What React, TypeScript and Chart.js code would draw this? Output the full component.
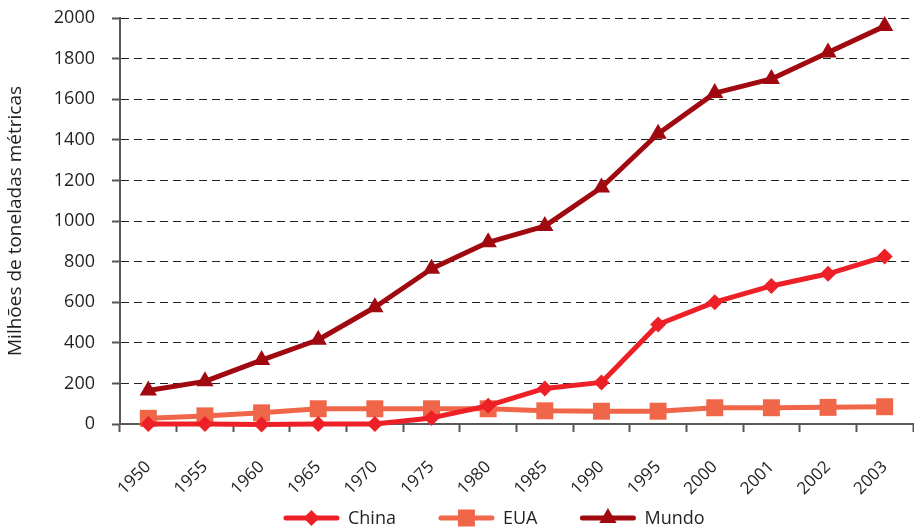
import React, { useEffect, useRef } from 'react';
import { Chart, registerables } from 'chart.js';
import { drawPoint } from 'chart.js/helpers';

Chart.register(...registerables);

const years = ['1950', '1955', '1960', '1965', '1970', '1975', '1980', '1985', '1990', '1995', '2000', '2001', '2002', '2003'];
const china = [0, 0, -3, 0, 0, 30, 90, 175, 205, 490, 600, 680, 740, 825];
const eua = [28, 40, 55, 75, 75, 75, 75, 65, 63, 63, 80, 80, 82, 85];
const mundo = [165, 210, 315, 415, 575, 765, 895, 975, 1165, 1430, 1630, 1700, 1830, 1960];
const yTitle = 'Milhões de toneladas métricas';

const FONT = "'Open Sans', 'Noto Sans', sans-serif";
const TEXT = '#231F20';

const legendPlugin = {
  id: 'lineMarkerLegend',
  afterDraw(chart: any) {
    const ctx = chart.ctx;
    const items = chart.data.datasets;
    ctx.save();
    ctx.font = `18px ${FONT}`;
    const lineW = 57, gapText = 8, gapItem = 42;
    const widths = items.map((d: any) => lineW + gapText + ctx.measureText(d.label).width);
    const ca = chart.chartArea;
    let x = ca.left + 163;
    const y = chart.height - 12;
    items.forEach((d: any, i: number) => {
      ctx.strokeStyle = d.borderColor;
      ctx.lineWidth = 5;
      ctx.lineCap = 'round';
      ctx.beginPath();
      ctx.moveTo(x + 3, y);
      ctx.lineTo(x + lineW - 3, y);
      ctx.stroke();
      ctx.fillStyle = d.pointBackgroundColor;
      ctx.strokeStyle = d.pointBorderColor;
      drawPoint(ctx, { pointStyle: d.pointStyle, radius: d.pointRadius, rotation: 0, borderWidth: 0 } as any, x + lineW / 2, y);
      ctx.fillStyle = TEXT;
      ctx.textBaseline = 'middle';
      ctx.textAlign = 'left';
      ctx.fillText(d.label, x + lineW + gapText, y + 1);
      x += widths[i] + gapItem;
    });
    ctx.restore();
  },
};

export default function App() {
  const ref = useRef<HTMLCanvasElement | null>(null);
  useEffect(() => {
    if (!ref.current) return;
    const chart = new Chart(ref.current, {
      type: 'line',
      data: {
        labels: years,
        datasets: [
          {
            label: 'China',
            data: china,
            borderColor: '#ED2028',
            backgroundColor: '#ED2028',
            pointBackgroundColor: '#ED2028',
            pointBorderColor: '#ED2028',
            pointStyle: 'rectRot',
            pointRadius: 8,
            pointBorderWidth: 0,
            borderWidth: 5,
            borderJoinStyle: 'round',
            borderCapStyle: 'round',
            tension: 0,
            clip: 20,
          },
          {
            label: 'EUA',
            data: eua,
            borderColor: '#F06649',
            backgroundColor: '#F06649',
            pointBackgroundColor: '#F06649',
            pointBorderColor: '#F06649',
            pointStyle: 'rect',
            pointRadius: 12,
            pointBorderWidth: 0,
            borderWidth: 5,
            borderJoinStyle: 'round',
            borderCapStyle: 'round',
            tension: 0,
            clip: 20,
          },
          {
            label: 'Mundo',
            data: mundo,
            borderColor: '#A0090F',
            backgroundColor: '#A0090F',
            pointBackgroundColor: '#A0090F',
            pointBorderColor: '#A0090F',
            pointStyle: 'triangle',
            pointRadius: 10,
            pointBorderWidth: 0,
            borderWidth: 5,
            borderJoinStyle: 'round',
            borderCapStyle: 'round',
            tension: 0,
            clip: 20,
          },
        ],
      },
      options: {
        animation: false,
        responsive: true,
        maintainAspectRatio: false,
        layout: { autoPadding: false, padding: { top: 18, right: 1, left: 4, bottom: 5 } },
        plugins: {
          legend: { display: false },
          tooltip: { enabled: false },
        },
        scales: {
          x: {
            offset: true,
            afterFit: (s: any) => { s.paddingRight = 0; s.height = 101; },
            grid: {
              offset: true,
              drawOnChartArea: false,
              drawTicks: true,
              tickLength: 8,
              tickColor: '#555',
              tickWidth: 2,
            },
            border: { display: true, color: '#595959', width: 2 },
            ticks: {
              color: TEXT,
              font: { family: FONT, size: 17 },
              maxRotation: 45,
              minRotation: 45,
              padding: 25,
              autoSkip: false,
            },
          },
          y: {
            min: 0,
            max: 2000,
            afterFit: (s: any) => { s.paddingTop = 0; },
            grid: {
              color: '#222',
              lineWidth: 1,
              drawTicks: true,
              tickLength: 8,
              tickColor: '#555',
              tickWidth: 2,
            },
            border: { display: true, color: '#595959', width: 2, dash: [8, 5] },
            ticks: {
              stepSize: 200,
              color: TEXT,
              font: { family: FONT, size: 18 },
              padding: 17,
              callback: (v: any) => String(v),
            },
            title: {
              display: true,
              text: yTitle,
              color: TEXT,
              font: { family: FONT, size: 19 },
              padding: { top: 0, bottom: 10 },
            },
          },
        },
      },
      plugins: [legendPlugin],
    });
    return () => chart.destroy();
  }, []);
  return (
    <div style={{ position: 'absolute', left: 0, top: 0, width: 914, height: 530, background: '#fff' }}>
      <canvas ref={ref} />
    </div>
  );
}
